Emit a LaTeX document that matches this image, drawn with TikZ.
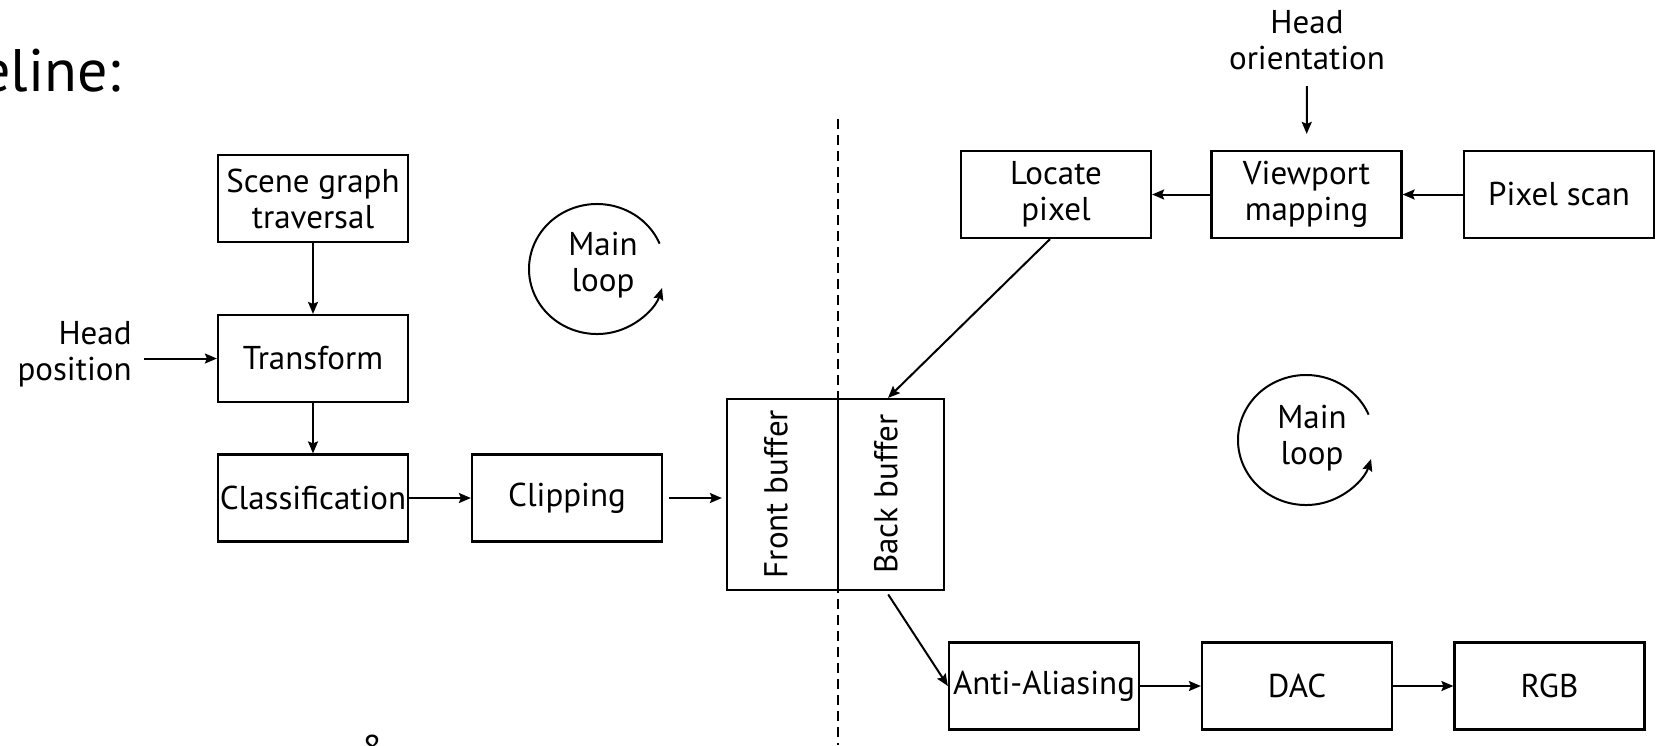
\documentclass[tikz,border=0pt]{standalone}
\usepackage{fontspec}
\setmainfont{PT Sans}
\usetikzlibrary{arrows.meta}
\newcommand{\lbl}{\fontsize{16.5}{18}\selectfont}
\begin{document}
\begin{tikzpicture}[x=0.5pt,y=-0.5pt,
  box/.style={draw,line width=1.1pt,minimum width=95pt,minimum height=43.5pt,inner sep=0pt,align=center,font=\lbl},
  txt/.style={align=center,font=\lbl,inner sep=0pt},
  arr/.style={line width=1pt,-{Stealth[length=6pt,width=5pt,inset=1pt]}},
  loop/.style={line width=1pt,-{Stealth[length=6pt,width=5pt,inset=1pt]}},
  dashline/.style={line width=1pt,dash pattern=on 5pt off 3pt},
]
\useasboundingbox (0,0) rectangle (1658,745);

% title fragment
\node[anchor=base west,inner sep=0pt,font=\fontsize{30}{36}\selectfont] (title) at (-20,91) {eline:};

% left side
\node[box] (scene) at (313,198.5) {Scene graph\\traversal};
\node[box] (transform) at (313,358.5) {Transform};
\node[box] (class) at (313,498) {Classification};
\node[box] (clip) at (567,498) {Clipping};
\node[txt,align=right,anchor=east] (hp) at (132,354) {Head\\position};
\coordinate (hpe) at (144,358.5);

% buffers
\node[draw,line width=1.1pt,minimum width=55.5pt,minimum height=95.5pt,inner sep=0pt] (front) at (782.5,494.5) {};
\node[draw,line width=1.1pt,minimum width=53pt,minimum height=95.5pt,inner sep=0pt] (back) at (891,494.5) {};
\node[txt,rotate=90] (fronttxt) at (776,494) {Front buffer};
\node[txt,rotate=90] (backtxt) at (886,494) {Back buffer};

% dashed divider
\coordinate (dtop) at (838,119);
\coordinate (dbot) at (838,745);
\draw[dashline] (dtop) -- (dbot);

% right side
\node[box] (locate) at (1056,194.5) {Locate\\pixel};
\node[box] (viewport) at (1306.5,194.5) {Viewport\\mapping};
\node[box] (pixscan) at (1559,194.5) {Pixel scan};
\node[txt] (ho) at (1307,40) {Head\\orientation};
\node[box] (anti) at (1044,686) {Anti-Aliasing};
\node[box] (dac) at (1297,686) {DAC};
\node[box] (rgb) at (1549.5,686) {RGB};

% main loops
\coordinate (loopa) at (597,269);
\coordinate (loopb) at (1306,440);
\node[txt] (mla) at (603,265) {Main\\loop};
\node[txt] (mlb) at (1312,438) {Main\\loop};
\draw[loop] (loopa) ++(-23:68 and 65) arc[start angle=-23,end angle=-343,x radius=68,y radius=65];
\draw[loop] (loopb) ++(-23:68 and 65) arc[start angle=-23,end angle=-343,x radius=68,y radius=65];

% page number fragment
\node[txt,anchor=north] (pg) at (372,735) {8};

% connectors
\draw[arr] (scene) -- (transform);
\draw[arr] (transform) -- (class);
\draw[arr] (class) -- (clip);
\draw[arr] (hpe) -- (transform.west);
\draw[arr,shorten <=3pt,shorten >=2pt] (clip.east) -- (clip.east -| front.west);
\draw[arr,shorten <=8pt,shorten >=8pt] (ho) -- (viewport);
\draw[arr] (pixscan) -- (viewport);
\draw[arr] (viewport) -- (locate);
\draw[arr] ([xshift=-3pt]locate.south) -- ([xshift=-1.5pt]back.north);
\draw[arr,shorten <=2pt] ([xshift=-2.5pt]back.south) -- (anti.west);
\draw[arr] (anti) -- (dac);
\draw[arr] (dac) -- (rgb);
\end{tikzpicture}
\end{document}
